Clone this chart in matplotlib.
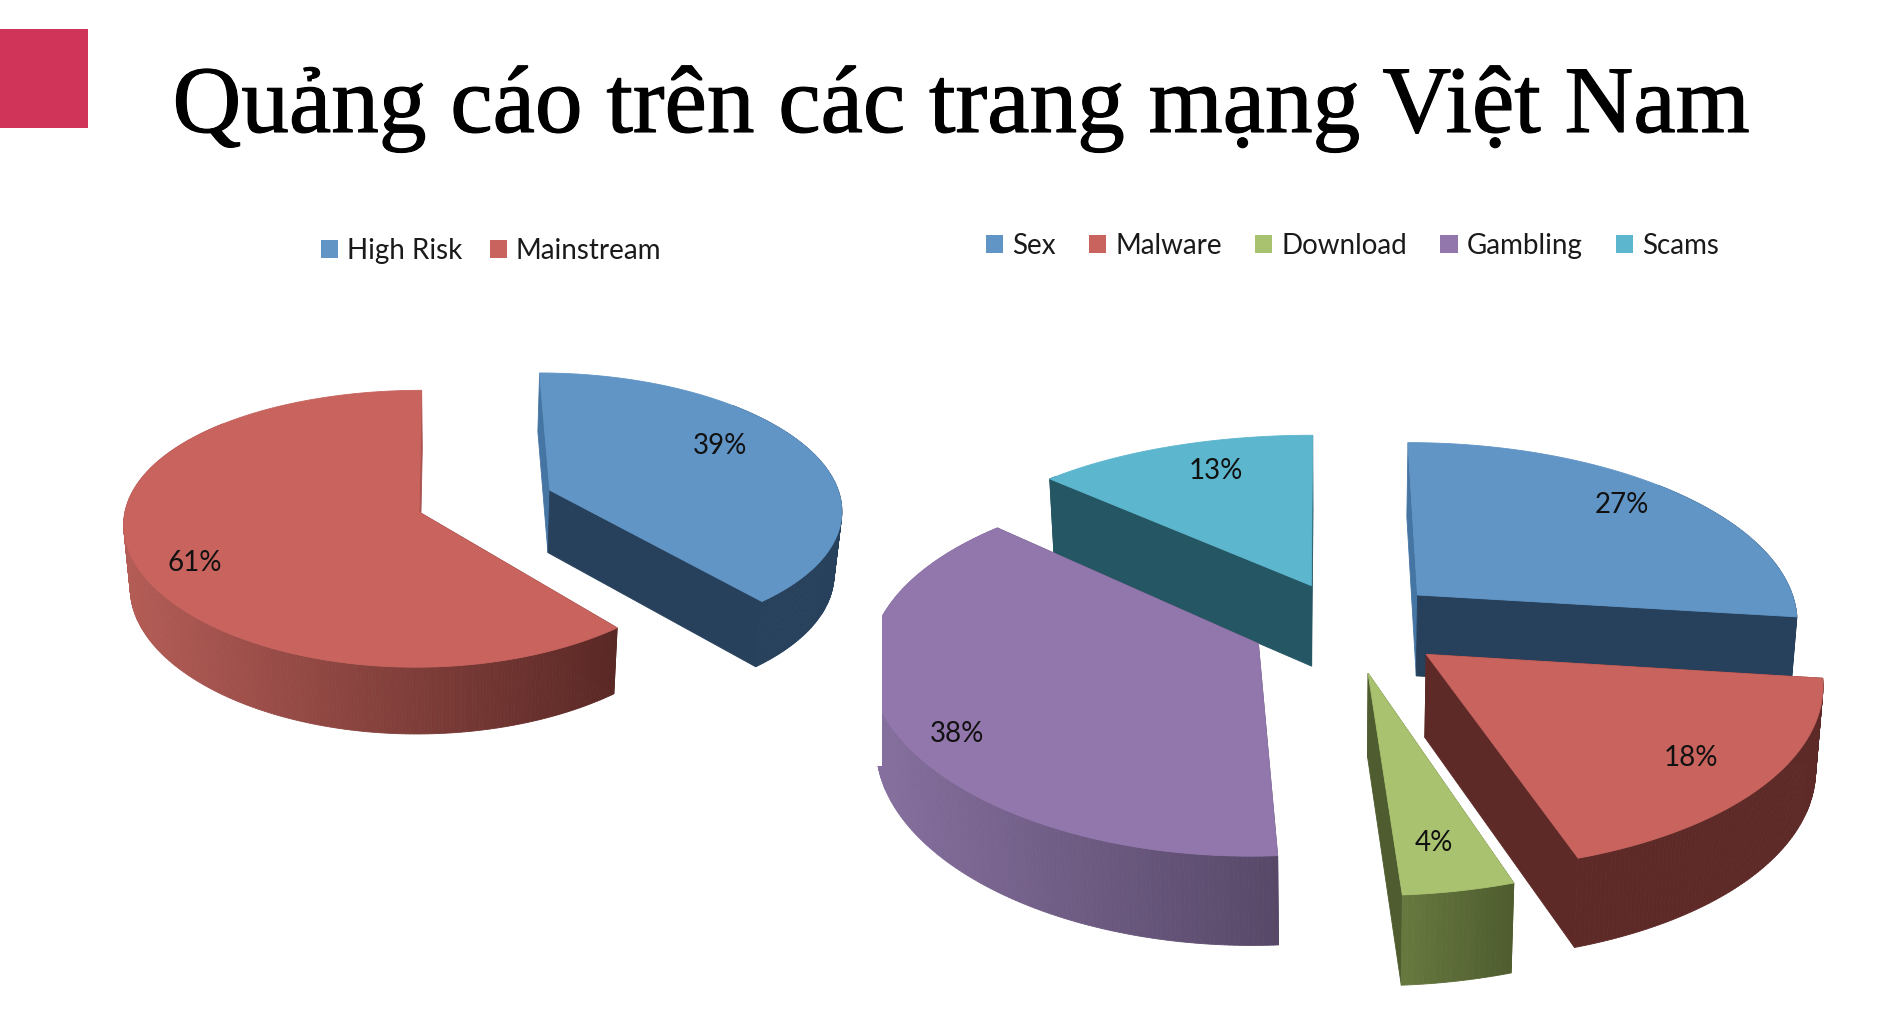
import numpy as np
import matplotlib
matplotlib.use("Agg")
import matplotlib.pyplot as plt
import matplotlib.patheffects as pe
from matplotlib.patches import Polygon, Rectangle, Patch, PathPatch
from matplotlib.path import Path
from matplotlib.colors import to_rgb

TITLE = "Quảng cáo trên các trang mạng Việt Nam"
left_names = ["High Risk", "Mainstream"]
left_values = [39, 61]
right_names = ["Sex", "Malware", "Download", "Gambling", "Scams"]
right_values = [27, 18, 4, 38, 13]

BLUE, RED, GREEN, PURPLE, TEAL = "#6195C6", "#C8635E", "#A9C26F", "#9277AD", "#5CB6CE"

fig = plt.figure(figsize=(18.78, 10.34), dpi=100, facecolor="white")
ax = fig.add_axes([0, 0, 1, 1])
ax.set_xlim(0, 1878)
ax.set_ylim(1034, 0)
ax.axis("off")


class Pie3D:
    def __init__(self, cx, cy, R, k, p, vx, d, slope, scale):
        self.cx, self.cy, self.R, self.k, self.p = cx, cy, R, k, p
        self.vx, self.d, self.slope, self.scale = vx, d, slope, scale
        self.xp = p
        self.z = 1

    def top(self, u, v):
        s = 1 / (1 + self.p * v)
        sx = 1 / (1 + self.xp * v)
        return self.vx + (self.cx + self.R * u - self.vx) * sx, self.cy - self.R * self.k * v * s

    def bottom(self, u, v):
        x, y = self.top(u, v)
        return self.vx + (x - self.vx) * self.scale, y + self.d * (1 - self.slope * v)


def lerp(a, b, t):
    a, b = np.array(to_rgb(a)), np.array(to_rgb(b))
    return tuple(a + (b - a) * t)


def draw_slice(pie, start, sweep, explode, face, wall_a, wall_b, rad_start, rad_end,
               label, lab_r, lab_ang, clip=None, xp=None):
    pie.xp = pie.p if xp is None else xp
    mid = np.radians(start + sweep / 2)
    ou, ov = explode * np.sin(mid), explode * np.cos(mid)
    deg = np.linspace(start, start + sweep, max(8, int(sweep * 1.5)))
    th = np.radians(deg)
    us, vs = ou + np.sin(th), ov + np.cos(th)
    artists = []

    def quad(pts, col, z):
        pg = Polygon(pts, closed=True, facecolor=col, edgecolor=col, lw=0.6, zorder=z)
        ax.add_patch(pg)
        artists.append(pg)

    for i, (u, v) in enumerate([(us[0], vs[0]), (us[-1], vs[-1])]):
        col = rad_start if i == 0 else rad_end
        quad([pie.top(ou, ov), pie.top(u, v), pie.bottom(u, v), pie.bottom(ou, ov)], col, pie.z)
    x0 = pie.bottom(us, vs)[0].min()
    x1 = pie.bottom(us, vs)[0].max()
    for i in range(len(th) - 1):
        if np.cos(th[i]) > 0.7:      # back of the rim, never seen
            continue
        a, b = (us[i], vs[i]), (us[i + 1], vs[i + 1])
        xm = (pie.bottom(*a)[0] + pie.bottom(*b)[0]) / 2
        quad([pie.top(*a), pie.top(*b), pie.bottom(*b), pie.bottom(*a)],
             lerp(wall_a, wall_b, (xm - x0) / max(x1 - x0, 1)), pie.z + 0.1)
    tx, ty = pie.top(us, vs)
    tipx, tipy = pie.top(ou, ov)
    quad(np.column_stack([np.r_[tipx, tx], np.r_[tipy, ty]]), face, pie.z + 0.2)
    if clip is not None:
        for art in artists:
            art.set_clip_path(clip)
    la = np.radians(lab_ang)
    lx, ly = pie.top(ou + lab_r * np.sin(la), ov + lab_r * np.cos(la))
    ax.text(lx, ly, label, ha="center", va="center", fontsize=20, family="Lato",
            color="#111111", zorder=50)
    pie.z += 1


def draw_pie(pie, names, values, order, style):
    total = sum(values)
    starts = np.r_[0, np.cumsum(values)[:-1]] * 360.0 / total
    for i in order:
        st = style[names[i]]
        draw_slice(pie, starts[i], values[i] * 360.0 / total, label=f"{values[i]}%", **st)


left = Pie3D(419, 512, 294, 0.464, 0.121, 453, 63, 0.06, 0.98)
draw_pie(left, left_names, left_values, [1, 0], {
    "High Risk": dict(explode=0.48, face=BLUE, wall_a="#27415C", wall_b="#27415C",
                      rad_start="#4575A3", rad_end="#27415C", lab_r=0.72, lab_ang=61),
    "Mainstream": dict(explode=0.0, face=RED, wall_a="#B45C56", wall_b="#5A2825",
                       rad_start="#5E2A27", rad_end="#A9524F", lab_r=0.82, lab_ang=244,
                       xp=0.085),
})

right = Pie3D(1347.5, 624, 383, 0.468, 0.13, 1333, 82, 0.08, 0.985)
right.z = 10
clip_path = Path([(882, 0), (1878, 0), (1878, 1034), (874, 1034), (874, 766), (882, 766), (882, 0)])
clip_patch = PathPatch(clip_path, transform=ax.transData, fc="none", ec="none")
ax.add_patch(clip_patch)
draw_pie(right, right_names, right_values, [0, 4, 3, 2, 1], {
    "Sex": dict(explode=0.25, face=BLUE, wall_a="#27415C", wall_b="#27415C",
                rad_start="#4575A3", rad_end="#27415C", lab_r=0.82, lab_ang=47),
    "Scams": dict(explode=0.24, face=TEAL, wall_a="#255663", wall_b="#255663",
                  rad_start="#255663", rad_end="#255663", lab_r=0.79, lab_ang=340, xp=0.07),
    "Gambling": dict(explode=0.255, face=PURPLE, wall_a="#86709F", wall_b="#574868",
                     rad_start="#574868", rad_end="#574868", lab_r=0.87, lab_ang=238,
                     clip=clip_patch, xp=0.09),
    "Download": dict(explode=0.27, face=GREEN, wall_a="#68793F", wall_b="#4E5C2F",
                     rad_start="#4E5C2F", rad_end="#4E5C2F", lab_r=0.8, lab_ang=170),
    "Malware": dict(explode=0.26, face=RED, wall_a="#5E2A27", wall_b="#5E2A27",
                    rad_start="#5E2A27", rad_end="#5E2A27", lab_r=0.8, lab_ang=130),
})

ax.add_patch(Rectangle((0, 29), 88, 99, facecolor="#D13459", edgecolor="none", zorder=60))
ax.text(172.5, 132, TITLE, ha="left", va="baseline", fontsize=68.6, family="Liberation Serif",
        color="black", zorder=60,
        path_effects=[pe.withStroke(linewidth=0.8, foreground="black")])


def make_legend(names, colors, x, y, gap):
    handles = [Patch(facecolor=c, edgecolor="none") for c in colors]
    leg = ax.legend(handles, names, loc="center left", bbox_to_anchor=(x, y),
                    bbox_transform=ax.transData, ncol=len(names), frameon=False,
                    prop={"family": "Lato", "size": 20}, handlelength=0.62, handleheight=0.62,
                    handletextpad=0.32, columnspacing=gap, borderpad=0, borderaxespad=0,
                    labelcolor="#1a1a1a")
    leg.set_zorder(60)
    return leg


legA = make_legend(left_names, [BLUE, RED], 320.5, 251, 1.0)
ax.add_artist(legA)
make_legend(right_names, [BLUE, RED, GREEN, PURPLE, TEAL], 986, 246, 1.2)

fig.savefig("out.png", dpi=100, facecolor="white")
